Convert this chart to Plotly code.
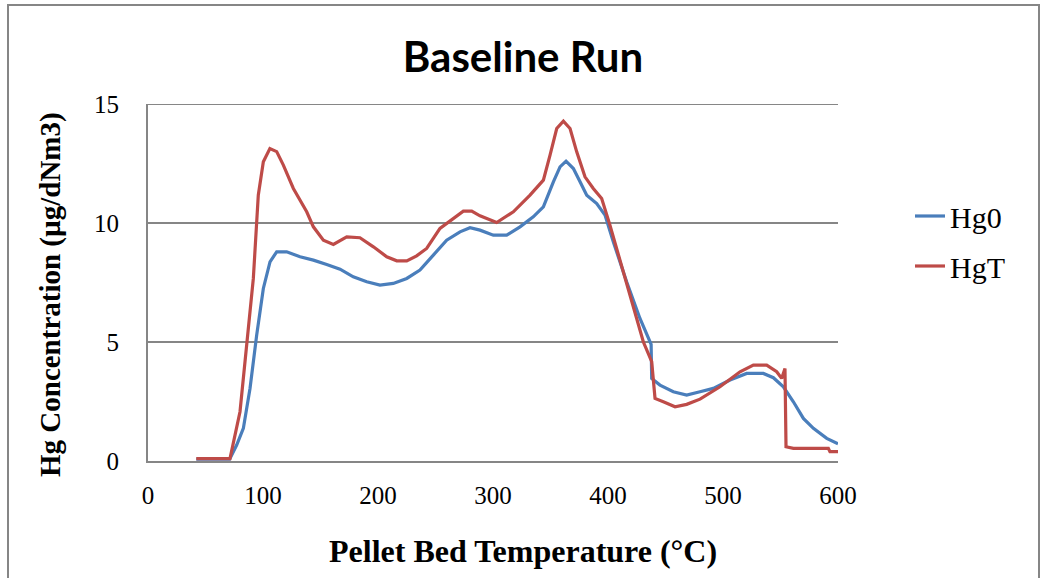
import plotly.graph_objects as go

# Hg0 (blue) series: temperature (°C) and concentration
hg0_x = [42, 60, 71, 77.1, 82.9, 88.7, 94.5, 100.3, 106.1, 111.9, 120.6, 132.2, 143.8, 155.4, 167,
         178.5, 190.2, 201.7, 213.3, 225, 236.5, 248.1, 259.7, 271.3, 280, 288.7, 300.3, 311.9,
         323.5, 335, 343.8, 352.5, 358.3, 363.5, 369.9, 375.7, 381.5, 390.2, 397.4, 404.6, 416.2,
         427.8, 436.5, 437.5, 438, 445.2, 456.8, 468.4, 480, 491.6, 506.1, 520.6, 535.1, 543.8,
         552.5, 561.2, 569.9, 578.6, 590.2, 600]
hg0_y = [0.08, 0.08, 0.08, 0.67, 1.37, 3.05, 5.29, 7.25, 8.37, 8.79, 8.79, 8.58, 8.44, 8.26, 8.06,
         7.74, 7.53, 7.39, 7.46, 7.67, 8.02, 8.65, 9.28, 9.63, 9.8, 9.7, 9.49, 9.49,
         9.84, 10.26, 10.68, 11.73, 12.36, 12.6, 12.29, 11.73, 11.17, 10.82, 10.33, 9.21, 7.53,
         5.99, 5.01, 4.9, 3.47, 3.19, 2.91, 2.77, 2.91, 3.05, 3.4, 3.68, 3.68, 3.5,
         3.12, 2.49, 1.79, 1.37, 0.95, 0.72]

# HgT (red) series
hgt_x = [42, 60, 71.3, 80, 85.8, 91.6, 95.9, 100.3, 106, 111.9, 117.7, 126.4, 138, 143.8, 152.5,
         161.2, 172.8, 184.3, 196, 207.6, 216.3, 225, 233.6, 242.3, 253.9, 265.5, 274.2, 281.5,
         288.7, 303.2, 317.7, 332.2, 343.8, 349.6, 355.4, 361.2, 367, 372.8, 380, 387.2, 394.5,
         401.7, 413.3, 422, 430.7, 438, 440.9, 448.1, 458.3, 468.4, 480, 497.4, 514.8, 526.4,
         538, 546.7, 551, 553.9, 554.8, 561.2, 591.6, 593, 600]
hgt_y = [0.1, 0.1, 0.1, 2.07, 4.87, 7.67, 11.17, 12.57, 13.13, 13.0, 12.43, 11.45, 10.47, 9.84, 9.28,
         9.1, 9.42, 9.38, 9.0, 8.58, 8.41, 8.41, 8.62, 8.93, 9.77, 10.19, 10.5, 10.5,
         10.3, 10.02, 10.47, 11.17, 11.8, 12.85, 13.97, 14.28, 13.97, 12.99, 11.94, 11.45, 11.03,
         9.91, 7.95, 6.41, 5.01, 4.17, 2.63, 2.49, 2.28, 2.38, 2.6, 3.12, 3.75, 4.03,
         4.03, 3.75, 3.47, 3.89, 0.6, 0.53, 0.53, 0.39, 0.39]

x_ticks = [0, 100, 200, 300, 400, 500, 600]
y_ticks = [0, 5, 10, 15]

serif = "Liberation Serif, Times New Roman, serif"
gray = "#868686"

# pixel geometry of the plot area
L, R, T, B = 148, 838, 104, 461
W, H = 1042, 578


def px_x(p):
    return (p - L) / (R - L)


def px_y(p):
    return (B - p) / (B - T)


fig = go.Figure()
fig.add_trace(go.Scatter(x=hg0_x, y=hg0_y, mode="lines", name="Hg0", legendgroup="a",
                         line=dict(color="#4A7EBB", width=3.2)))
fig.add_trace(go.Scatter(x=hgt_x, y=hgt_y, mode="lines", name="HgT", legendgroup="b",
                         line=dict(color="#BE4B48", width=3.2)))

fig.update_layout(
    width=W, height=H,
    margin=dict(l=L, r=W - R, t=T, b=H - B),
    paper_bgcolor="white", plot_bgcolor="white",
    title=dict(text="<b>Baseline Run</b>", x=523 / W, xanchor="center", y=1 - 57 / H, yanchor="middle",
               font=dict(family="Lato, Open Sans, sans-serif", size=42, color="black")),
    xaxis=dict(range=[0, 600], tickvals=x_ticks, showgrid=False, zeroline=False,
               showline=True, linecolor=gray, linewidth=2, ticks="",
               ticklabelstandoff=11,
               tickfont=dict(family=serif, size=25, color="black")),
    yaxis=dict(range=[0, 15], tickvals=y_ticks, showgrid=True, gridcolor=gray, gridwidth=2,
               zeroline=False, showline=True, linecolor=gray, linewidth=2, ticks="",
               ticklabelstandoff=22,
               tickfont=dict(family=serif, size=25, color="black")),
    legend=dict(x=px_x(910), xanchor="left", y=px_y(241), yanchor="middle",
                font=dict(family=serif, size=30, color="black"),
                tracegroupgap=8, bgcolor="rgba(0,0,0,0)"),
    showlegend=True,
)

# axis titles
fig.add_annotation(text="<b>Pellet Bed Temperature (°C)</b>", xref="paper", yref="paper",
                   x=px_x(523), y=px_y(551), xanchor="center", yanchor="middle", showarrow=False,
                   font=dict(family=serif, size=32, color="black"))
fig.add_annotation(text="<b>Hg Concentration (µg/dNm3)</b>", xref="paper", yref="paper",
                   x=px_x(50), y=px_y(295), xanchor="center", yanchor="middle", showarrow=False,
                   textangle=-90, font=dict(family=serif, size=29, color="black"))

# top gridline at 15
fig.add_shape(type="line", xref="paper", yref="y", x0=0, x1=1, y0=15, y1=15,
              line=dict(color=gray, width=2))

# outer chart frame
fig.add_shape(type="rect", xref="paper", yref="paper",
              x0=px_x(8), x1=px_x(1039), y0=px_y(600), y1=px_y(5),
              line=dict(color=gray, width=2), fillcolor="rgba(0,0,0,0)", layer="below")

fig.write_html("out.html")
